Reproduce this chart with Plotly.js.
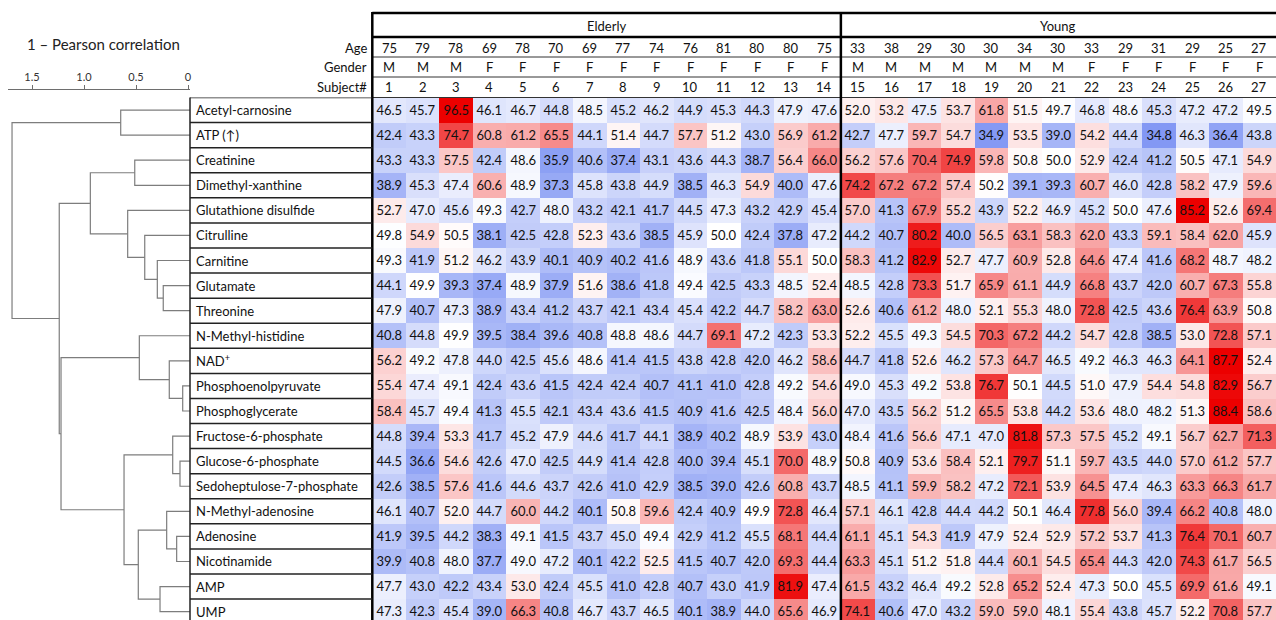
<!DOCTYPE html>
<html>
<head>
<meta charset="utf-8">
<script src="https://cdn.plot.ly/plotly-3.0.1.min.js"></script>
<style>
  html, body { margin: 0; padding: 0; background: #fff; }
  #chart { width: 1276px; height: 620px; }
</style>
</head>
<body>
<div id="chart"></div>
<script>
// ---- Subjects ----
const groups = ['Elderly', 'Young'];
const groupSizes = [14, 13];
const ages = [75, 79, 78, 69, 78, 70, 69, 77, 74, 76, 81, 80, 80, 75,
              33, 38, 29, 30, 30, 34, 30, 33, 29, 31, 29, 25, 27];
const genders = ['M','M','M','F','F','F','F','F','F','F','F','F','F','F',
                 'M','M','M','M','M','M','M','F','F','F','F','F','F'];
const subjects = ages.map((_, i) => String(i + 1));

// ---- Metabolites (row order follows the dendrogram) ----
const metabolites = [
  'Acetyl-carnosine', 'ATP (↑)', 'Creatinine', 'Dimethyl-xanthine',
  'Glutathione disulfide', 'Citrulline', 'Carnitine', 'Glutamate',
  'Threonine', 'N-Methyl-histidine', 'NAD<sup>+</sup>', 'Phosphoenolpyruvate',
  'Phosphoglycerate', 'Fructose-6-phosphate', 'Glucose-6-phosphate',
  'Sedoheptulose-7-phosphate', 'N-Methyl-adenosine', 'Adenosine',
  'Nicotinamide', 'AMP', 'UMP'
];

// ---- Values per metabolite, subjects 1..27 ----
const acetylCarnosine = [46.5,45.7,96.5,46.1,46.7,44.8,48.5,45.2,46.2,44.9,45.3,44.3,47.9,47.6, 52.0,53.2,47.5,53.7,61.8,51.5,49.7,46.8,48.6,45.3,47.2,47.2,49.5];
const atp             = [42.4,43.3,74.7,60.8,61.2,65.5,44.1,51.4,44.7,57.7,51.2,43.0,56.9,61.2, 42.7,47.7,59.7,54.7,34.9,53.5,39.0,54.2,44.4,34.8,46.3,36.4,43.8];
const creatinine      = [43.3,43.3,57.5,42.4,48.6,35.9,40.6,37.4,43.1,43.6,44.3,38.7,56.4,66.0, 56.2,57.6,70.4,74.9,59.8,50.8,50.0,52.9,42.4,41.2,50.5,47.1,54.9];
const dimethylXanthine= [38.9,45.3,47.4,60.6,48.9,37.3,45.8,43.8,44.9,38.5,46.3,54.9,40.0,47.6, 74.2,67.2,67.2,57.4,50.2,39.1,39.3,60.7,46.0,42.8,58.2,47.9,59.6];
const glutathioneDis  = [52.7,47.0,45.6,49.3,42.7,48.0,43.2,42.1,41.7,44.5,47.3,43.2,42.9,45.4, 57.0,41.3,67.9,55.2,43.9,52.2,46.9,45.2,50.0,47.6,85.2,52.6,69.4];
const citrulline      = [49.8,54.9,50.5,38.1,42.5,42.8,52.3,43.6,38.5,45.9,50.0,42.4,37.8,47.2, 44.2,40.7,80.2,40.0,56.5,63.1,58.3,62.0,43.3,59.1,58.4,62.0,45.9];
const carnitine       = [49.3,41.9,51.2,46.2,43.9,40.1,40.9,40.2,41.6,48.9,43.6,41.8,55.1,50.0, 58.3,41.2,82.9,52.7,47.7,60.9,52.8,64.6,47.4,41.6,68.2,48.7,48.2];
const glutamate       = [44.1,49.9,39.3,37.4,48.9,37.9,51.6,38.6,41.8,49.4,42.5,43.3,48.5,52.4, 48.5,42.8,73.3,51.7,65.9,61.1,44.9,66.8,43.7,42.0,60.7,67.3,55.8];
const threonine       = [47.9,40.7,47.3,38.9,43.4,41.2,43.7,42.1,43.4,45.4,42.2,44.7,58.2,63.0, 52.6,40.6,61.2,48.0,52.1,55.3,48.0,72.8,42.5,43.6,76.4,63.9,50.8];
const nMethylHistidine= [40.8,44.8,49.9,39.5,38.4,39.6,40.8,48.8,48.6,44.7,69.1,47.2,42.3,53.3, 52.2,45.5,49.3,54.5,70.3,67.2,44.2,54.7,42.8,38.5,53.0,72.8,57.1];
const nad             = [56.2,49.2,47.8,44.0,42.5,45.6,48.6,41.4,41.5,43.8,42.8,42.0,46.2,58.6, 44.7,41.8,52.6,46.2,57.3,64.7,46.5,49.2,46.3,46.3,64.1,87.7,52.4];
const pep             = [55.4,47.4,49.1,42.4,43.6,41.5,42.4,42.4,40.7,41.1,41.0,42.8,49.2,54.6, 49.0,45.3,49.2,53.8,76.7,50.1,44.5,51.0,47.9,54.4,54.8,82.9,56.7];
const phosphoglycerate= [58.4,45.7,49.4,41.3,45.5,42.1,43.4,43.6,41.5,40.9,41.6,42.5,48.4,56.0, 47.0,43.5,56.2,51.2,65.5,53.8,44.2,53.6,48.0,48.2,51.3,88.4,58.6];
const f6p             = [44.8,39.4,53.3,41.7,45.2,47.9,44.6,41.7,44.1,38.9,40.2,48.9,53.9,43.0, 48.4,41.6,56.6,47.1,47.0,81.8,57.3,57.5,45.2,49.1,56.7,62.7,71.3];
const g6p             = [44.5,36.6,54.6,42.6,47.0,42.5,44.9,41.4,42.8,40.0,39.4,45.1,70.0,48.9, 50.8,40.9,53.6,58.4,52.1,79.7,51.1,59.7,43.5,44.0,57.0,61.2,57.7];
const s7p             = [42.6,38.5,57.6,41.6,44.6,43.7,42.6,41.0,42.9,38.5,39.0,42.6,60.8,43.7, 48.5,41.1,59.9,58.2,47.2,72.1,53.9,64.5,47.4,46.3,63.3,66.3,61.7];
const nMethylAdenosine= [46.1,40.7,52.0,44.7,60.0,44.2,40.1,50.8,59.6,42.4,40.9,49.9,72.8,46.4, 57.1,46.1,42.8,44.4,44.2,50.1,46.4,77.8,56.0,39.4,66.2,40.8,48.0];
const adenosine       = [41.9,39.5,44.2,38.3,49.1,41.5,43.7,45.0,49.4,42.9,41.2,45.5,68.1,44.4, 61.1,45.1,54.3,41.9,47.9,52.4,52.9,57.2,53.7,41.3,76.4,70.1,60.7];
const nicotinamide    = [39.9,40.8,48.0,37.7,49.0,47.2,40.1,42.2,52.5,41.5,40.7,42.0,69.3,44.4, 63.3,45.1,51.2,51.8,44.4,60.1,54.5,65.4,44.3,42.0,74.3,61.7,56.5];
const amp             = [47.7,43.0,42.2,43.4,53.0,42.4,45.5,41.0,42.8,40.7,43.0,41.9,81.9,47.4, 61.5,43.2,46.4,49.2,52.8,65.2,52.4,47.3,50.0,45.5,69.9,61.6,49.1];
const ump             = [47.3,42.3,45.4,39.0,66.3,40.8,46.7,43.7,46.5,40.1,38.9,44.0,65.6,46.9, 74.1,40.6,47.0,43.2,59.0,59.0,48.1,55.4,43.8,45.7,52.2,70.8,57.7];

const values = [acetylCarnosine, atp, creatinine, dimethylXanthine, glutathioneDis,
  citrulline, carnitine, glutamate, threonine, nMethylHistidine, nad, pep,
  phosphoglycerate, f6p, g6p, s7p, nMethylAdenosine, adenosine, nicotinamide, amp, ump];

// ---- Hierarchical clustering (1 - Pearson correlation) ----
// [childA, childB, height]; ids 0..20 are leaves, merges are numbered from 21 on.
const linkage = [
  [11, 12, 0.051], [14, 15, 0.077], [17, 18, 0.109], [13, 22, 0.147],
  [10, 21, 0.180], [16, 23, 0.205], [7, 8, 0.238],   [19, 20, 0.269],
  [6, 27, 0.295],  [5, 29, 0.416],  [9, 25, 0.468],  [26, 28, 0.478],
  [2, 3, 0.512],   [4, 30, 0.580],  [24, 32, 0.615], [0, 1, 0.647],
  [33, 34, 0.939], [31, 35, 1.221], [37, 38, 1.238], [36, 39, 1.692]
];
const distTicks = [0, 0.5, 1.0, 1.5];

// ---- Page geometry (pixels) ----
const W = 1276, H = 620;
const px = x => x / W;
const py = y => 1 - y / H;
const FONT = 'Lato, "Open Sans", sans-serif';
const gridLeft = 372.3, gridTop = 97.5, rowH = 25.08, colW = 33.47;
const labelLeft = 190;
const nRows = metabolites.length, nCols = ages.length;
const rowsVisible = (H - gridTop) / rowH;
const colsVisible = (W - gridLeft) / colW;

// dendrogram axis: 104 px per unit, zero at x = 188
const dScale = 104, dZero = 188, dLeft = 8;
const dRange = [(dZero - dLeft) / dScale, (dZero - labelLeft) / dScale];

// ---- Heatmap ----
const heat = {
  type: 'heatmap',
  z: values,
  x: subjects.map((_, i) => i),
  y: metabolites.map((_, i) => i),
  zmin: 30, zmax: 84,
  colorscale: [
    [0, 'rgb(92,120,240)'],
    [(50 - 30) / (84 - 30), 'rgb(255,255,255)'],
    [1, 'rgb(236,0,0)']
  ],
  showscale: false,
  texttemplate: '%{z:.1f}',
  textfont: { family: FONT, size: 13, color: '#111' },
  hoverinfo: 'skip',
  xaxis: 'x', yaxis: 'y'
};

// ---- Dendrogram segments ----
const nodeY = metabolites.map((_, i) => i);
const nodeH = metabolites.map(() => dRange[1]);
const dx = [], dy = [];
linkage.forEach(([a, b, h]) => {
  dx.push(nodeH[a], h, h, nodeH[b], null);
  dy.push(nodeY[a], nodeY[a], nodeY[b], nodeY[b], null);
  nodeY.push((nodeY[a] + nodeY[b]) / 2);
  nodeH.push(h);
});
const dendro = {
  type: 'scatter', mode: 'lines',
  x: dx, y: dy,
  line: { color: 'rgb(125,125,125)', width: 1.2 },
  hoverinfo: 'skip',
  xaxis: 'x2', yaxis: 'y'
};

// ---- Annotations ----
const annotations = [];
const hdr = (text, x, y, extra) => Object.assign({
  text, x, y, xref: 'x', yref: 'paper', showarrow: false,
  xanchor: 'center', yanchor: 'middle',
  font: { family: FONT, size: 13, color: '#111' }
}, extra || {});

let start = 0;
groups.forEach((g, k) => {
  annotations.push(hdr(g, start + (groupSizes[k] - 1) / 2, py(26)));
  start += groupSizes[k];
});
ages.forEach((a, i) => annotations.push(hdr(String(a), i, py(47.5))));
genders.forEach((g, i) => annotations.push(hdr(g, i, py(67))));
subjects.forEach((s, i) => annotations.push(hdr(s, i, py(87))));

[['Age', 47.5], ['Gender', 67], ['Subject#', 87]].forEach(([t, y]) => {
  annotations.push({
    text: t, x: px(369), y: py(y), xref: 'paper', yref: 'paper',
    xanchor: 'right', yanchor: 'middle', showarrow: false,
    font: { family: FONT, size: 13, color: '#111' }
  });
});

metabolites.forEach((m, i) => {
  annotations.push({
    text: m, x: px(labelLeft + 4), y: i, xref: 'paper', yref: 'y',
    xanchor: 'left', yanchor: 'middle', showarrow: false,
    font: { family: FONT, size: 13, color: '#111' }
  });
});

annotations.push({
  text: '1 – Pearson correlation', x: px(103.5), y: py(44),
  xref: 'paper', yref: 'paper', xanchor: 'center', yanchor: 'middle',
  showarrow: false, font: { family: FONT, size: 15, color: '#222' }
});

// ---- Frame lines ----
const shapes = [];
const line = (x0, y0, x1, y1, w, c, xref, yref) => shapes.push({
  type: 'line', x0, y0, x1, y1, xref: xref || 'paper', yref: yref || 'paper',
  line: { color: c || '#000', width: w }
});
line(px(gridLeft), py(13), 1, py(13), 2.5);
line(px(gridLeft), py(37), 1, py(37), 2.5);
line(px(gridLeft), py(57), 1, py(57), 1, '#333');
line(px(gridLeft), py(77), 1, py(77), 1, '#333');
line(px(gridLeft), py(gridTop), 1, py(gridTop), 1, '#333');
line(px(gridLeft), py(12), px(gridLeft), 0, 2.5);
line(groupSizes[0] - 0.5, py(12), groupSizes[0] - 0.5, 0, 2.5, '#000', 'x', 'paper');
line(px(labelLeft), py(gridTop), px(labelLeft), 0, 1.5, '#222');
for (let i = 0; i <= nRows; i++) {
  line(px(labelLeft), i - 0.5, px(gridLeft), i - 0.5, 1.5, '#222', 'paper', 'y');
}

const layout = {
  width: W, height: H,
  margin: { l: 0, r: 0, t: 0, b: 0 },
  paper_bgcolor: '#fff', plot_bgcolor: 'rgba(0,0,0,0)',
  showlegend: false,
  font: { family: FONT },
  xaxis: {
    domain: [px(gridLeft), 1], range: [-0.5, -0.5 + colsVisible],
    visible: false, fixedrange: true
  },
  yaxis: {
    domain: [0, py(gridTop)], range: [-0.5 + rowsVisible, -0.5],
    visible: false, fixedrange: true
  },
  xaxis2: {
    domain: [px(dLeft), px(labelLeft)], range: dRange,
    anchor: 'free', position: py(89), side: 'top',
    showline: true, linecolor: 'rgb(110,110,110)', linewidth: 1,
    ticks: 'outside', ticklen: 4, tickcolor: 'rgb(110,110,110)',
    tickvals: distTicks, ticktext: distTicks.map(v => v === 0 ? '0' : v.toFixed(1)),
    tickfont: { family: FONT, size: 11, color: '#333' },
    showgrid: false, zeroline: false, fixedrange: true
  },
  annotations, shapes
};

Plotly.newPlot('chart', [heat, dendro], layout, { staticPlot: true, displayModeBar: false });
</script>
</body>
</html>
